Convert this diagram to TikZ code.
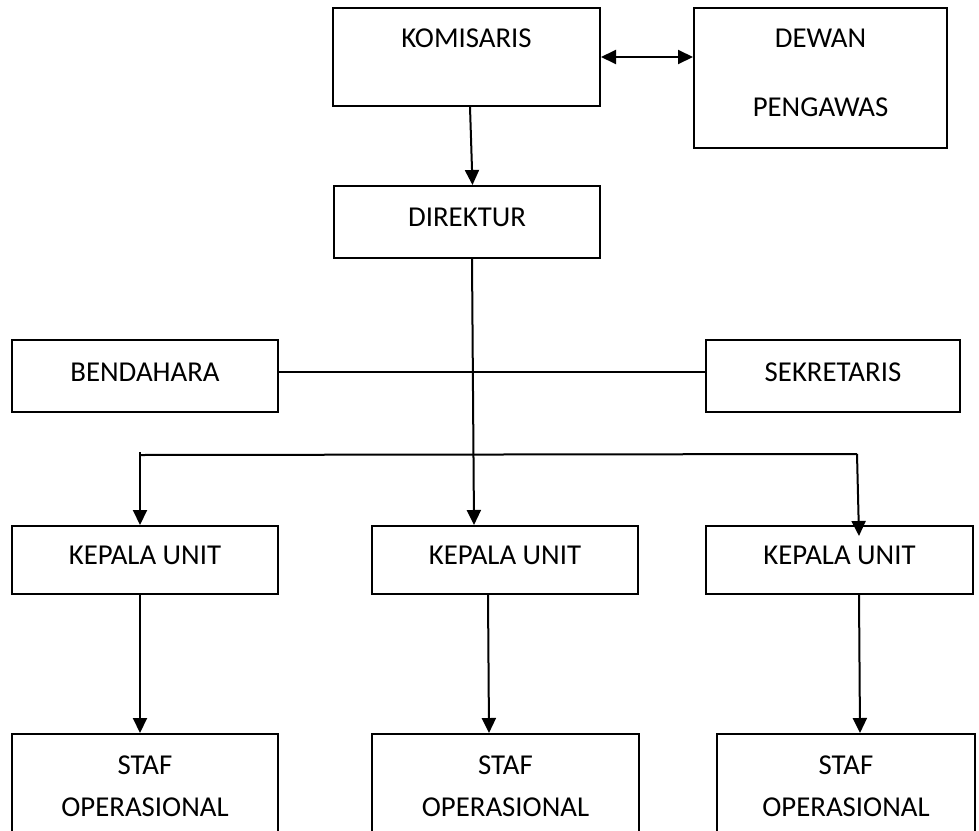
\documentclass[tikz,border=0pt]{standalone}
\usepackage{fontspec}
\setmainfont{Carlito}
\usetikzlibrary{arrows.meta,fit}
\begin{document}
\begin{tikzpicture}[x=0.5pt,y=-0.5pt,
  box/.style={draw,line width=1pt,inner sep=0pt},
  lbl/.style={font=\fontsize{14.4}{17}\selectfont,inner sep=0pt},
  con/.style={line width=1pt},
  tip/.tip={Triangle[length=7.5pt,width=7pt]},
  arr/.style={con,-tip},
  darr/.style={con,tip-tip}]
\useasboundingbox (0,0) rectangle (979,830);
\clip (0,0) rectangle (979,830);
% boxes
\node[box,fit={(333,8)(600,106)}] (kom) {};
\node[lbl] (komt) at (466.5,38) {KOMISARIS};
\node[box,fit={(694,8)(947,148)}] (dew) {};
\node[lbl] (dewt1) at (820.5,38) {DEWAN};
\node[lbl] (dewt2) at (820.5,107) {PENGAWAS};
\node[box,fit={(334,186)(600,258)}] (dir) {};
\node[lbl] (dirt) at (467,217) {DIREKTUR};
\node[box,fit={(12,340)(278,412)}] (ben) {};
\node[lbl] (bent) at (145,372) {BENDAHARA};
\node[box,fit={(706,340)(960,412)}] (sek) {};
\node[lbl] (sekt) at (833,372) {SEKRETARIS};
\node[box,fit={(12,526)(278,594)}] (ku1) {};
\node[lbl] (ku1t) at (145,555) {KEPALA UNIT};
\node[box,fit={(372,526)(638,594)}] (ku2) {};
\node[lbl] (ku2t) at (505,555) {KEPALA UNIT};
\node[box,fit={(706,526)(973,594)}] (ku3) {};
\node[lbl] (ku3t) at (839.5,555) {KEPALA UNIT};
\node[box,fit={(12,734)(278,880)}] (st1) {};
\node[lbl] (st1a) at (145,765) {STAF};
\node[lbl] (st1b) at (145,807) {OPERASIONAL};
\node[box,fit={(372,734)(639,880)}] (st2) {};
\node[lbl] (st2a) at (505.5,765) {STAF};
\node[lbl] (st2b) at (505.5,807) {OPERASIONAL};
\node[box,fit={(717,734)(975,880)}] (st3) {};
\node[lbl] (st3a) at (846,765) {STAF};
\node[lbl] (st3b) at (846,807) {OPERASIONAL};
% connectors
\draw[darr] (kom.east) -- (kom.east -| dew.west);
\draw[arr] ([xshift=1.75pt]kom.south) -- ([xshift=2.75pt]dir.north);
\draw[con] ([yshift=2pt]ben.east) -- ([yshift=2pt]ben.east -| sek.west);
\draw[arr] ([xshift=2.5pt]dir.south) -- ([xshift=-15.5pt]ku2.north);
\coordinate (dl) at (140,455);
\coordinate (dr) at (857,454);
\coordinate (drt) at (859,536);
\draw[con] (dl) -- (dr);
\draw[arr] ([yshift=1.5pt]dl) -- ([xshift=-2.5pt]ku1.north);
\draw[arr] (dr) -- (drt);
\draw[arr] ([xshift=-2.5pt]ku1.south) -- ([xshift=-2.5pt]st1.north);
\draw[arr] ([xshift=-8.5pt]ku2.south) -- ([xshift=-8.25pt]st2.north);
\draw[arr] ([xshift=9.75pt]ku3.south) -- ([xshift=7pt]st3.north);
\end{tikzpicture}
\end{document}
